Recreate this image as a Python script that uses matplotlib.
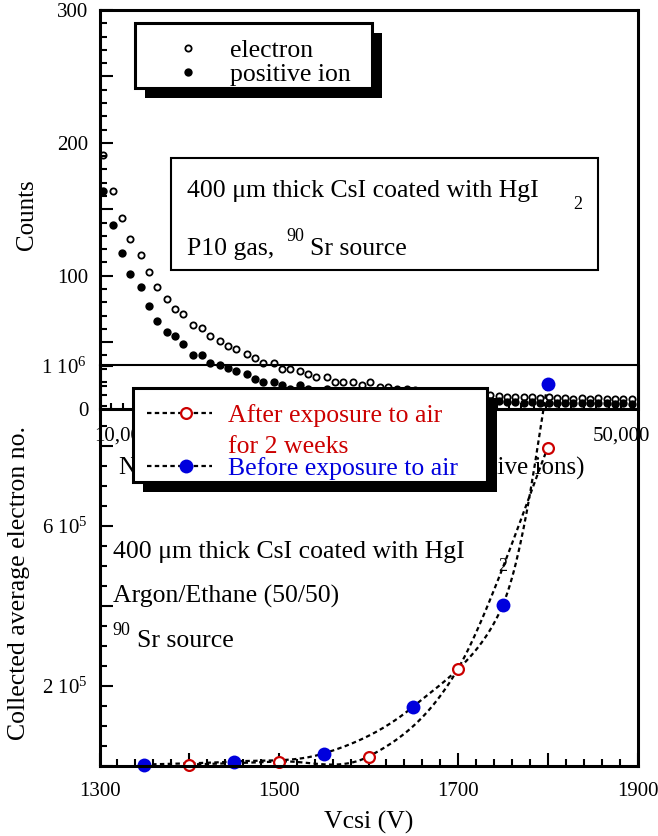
import numpy as np
import matplotlib
matplotlib.use('Agg')
import matplotlib.pyplot as plt
from matplotlib.patches import Rectangle
from matplotlib.lines import Line2D
from matplotlib.ticker import MultipleLocator, FixedLocator, FuncFormatter

plt.rcParams['font.family'] = ['Liberation Serif', 'DejaVu Serif']
plt.rcParams['mathtext.fontset'] = 'custom'
plt.rcParams['mathtext.rm'] = 'Liberation Serif'
plt.rcParams['mathtext.it'] = 'Liberation Serif:italic'

W, H = 658, 836
RED = '#cc0000'
BLUE = '#0000dd'

# upper panel: counts vs number of charges
n_charges = [8370, 9220, 9920, 10560, 11410, 12050, 12710, 13510, 14180, 14800,
             15650, 16310, 16990, 17790, 18430, 19080, 19940, 20600, 21250, 22100,
             22750, 23390, 24220, 24880, 25530, 26360, 27030, 27700, 28500, 29170,
             29840, 30640, 31310, 31980, 32790, 33450, 34140, 34820, 35460, 36150,
             36830, 37470, 38150, 38840, 39480, 40160, 40840, 41490, 42170, 42850,
             43490, 44180, 44860, 45500, 46180, 46870, 47510, 48190, 48880, 49520,
             50200, 50880]
electron = [190.6, 163.9, 143.7, 127.7, 115.2, 103.0, 91.1, 82.8, 75.0, 70.8,
            63.2, 60.7, 54.8, 50.5, 47.0, 44.5, 40.9, 38.1, 34.5, 34.5,
            29.9, 29.9, 28.2, 26.1, 23.8, 23.8, 20.0, 20.0, 20.0, 18.0,
            20.0, 16.2, 16.2, 14.7, 14.7, 13.8, 13.0, 12.5, 12.0, 11.5,
            11.0, 10.8, 10.5, 10.2, 10.0, 9.5, 9.0, 8.5, 9.0, 8.5,
            8.0, 8.5, 8.0, 8.0, 7.5, 8.0, 7.5, 8.0, 7.5, 7.5, 7.0, 7.5]
positive_ion = [163.7, 137.8, 117.0, 101.3, 91.1, 77.1, 65.5, 57.9, 54.8, 48.5,
                40.4, 40.4, 34.5, 32.5, 30.5, 28.6, 26.1, 22.1, 20.0, 20.0,
                18.0, 14.7, 18.0, 14.7, 13.5, 14.7, 13.0, 12.5, 12.5, 12.0,
                11.5, 11.0, 10.5, 10.5, 10.0, 9.5, 9.0, 8.5, 8.0, 8.0,
                7.5, 7.0, 7.0, 6.5, 6.0, 5.5, 5.0, 5.0, 4.5, 5.0,
                4.5, 4.5, 4.0, 4.5, 4.0, 4.0, 4.5, 4.0, 4.0, 3.5, 4.0, 3.5]

# lower panel: collected electrons vs Vcsi
vcsi_before = [1350, 1450, 1550, 1650, 1750, 1800]
before = [2500, 10000, 30000, 147500, 402500, 955000]
vcsi_after = [1400, 1500, 1600, 1700, 1800]
after = [2500, 10000, 22500, 242500, 795000]


def fx(px):
    return px / W


def fy(py):
    return 1 - py / H


def smooth(x, y, steps=30):
    # Catmull-Rom curve through the points, only for drawing the dashed line
    p = np.column_stack([x, y]).astype(float)
    p = np.vstack([p[0], p, p[-1]])
    t = np.linspace(0, 1, steps)[:, None]
    segs = []
    for i in range(1, len(p) - 2):
        p0, p1, p2, p3 = p[i - 1], p[i], p[i + 1], p[i + 2]
        segs.append(0.5 * (2 * p1 + (p2 - p0) * t
                           + (2 * p0 - 5 * p1 + 4 * p2 - p3) * t ** 2
                           + (3 * p1 - p0 - 3 * p2 + p3) * t ** 3))
    c = np.vstack(segs)
    return c[:, 0], c[:, 1]


def shadow_box(x0, y0, x1, y1, lw, off=10):
    w, h = (x1 - x0) / W, (y1 - y0) / H
    if off:
        fig.add_artist(Rectangle((fx(x0 + off), fy(y1 + off)), w, h, transform=fig.transFigure,
                                 facecolor='black', edgecolor='black', lw=0, zorder=4))
    fig.add_artist(Rectangle((fx(x0), fy(y1)), w, h, transform=fig.transFigure,
                             facecolor='white', edgecolor='black', lw=lw, zorder=5))


def ftext(px, py, s, size=18.5, **kw):
    fig.text(fx(px), fy(py), s, fontsize=size, va='baseline', zorder=7, **kw)


def fmarker(px, py, **kw):
    fig.add_artist(Line2D([fx(px)], [fy(py)], transform=fig.transFigure, zorder=6, **kw))


fig = plt.figure(figsize=(W / 100, H / 100), dpi=100)
ax1 = fig.add_axes([fx(99.5), fy(408.5), (637.5 - 99.5) / W, (408.5 - 10) / H])
ax2 = fig.add_axes([fx(99.5), fy(765.5), (637.5 - 99.5) / W, (765.5 - 365.5) / H])
ax2.patch.set_visible(False)

# ---- upper panel
ax1.plot(n_charges, electron, 'o', ms=4.5, mfc='none', mec='black', mew=1.3)
ax1.plot(n_charges, positive_ion, 'o', ms=6, mfc='black', mec='black', mew=0)
ax1.set_xlim(8110, 51325)
ax1.set_ylim(0, 300)
ax1.xaxis.set_major_locator(FixedLocator([10000, 50000]))
ax1.xaxis.set_major_formatter(FuncFormatter(lambda v, p: f'{v:,.0f}'))
ax1.xaxis.set_minor_locator(MultipleLocator(1000))
ax1.yaxis.set_major_locator(MultipleLocator(50))
ax1.yaxis.set_major_formatter(FuncFormatter(lambda v, p: f'{v:.0f}' if v % 100 == 0 else ''))
ax1.yaxis.set_minor_locator(MultipleLocator(10))
ax1.tick_params(which='both', direction='in', top=False, right=False, labelsize=15, width=1.5)
ax1.tick_params(axis='y', which='major', length=9.5, pad=8)
ax1.tick_params(axis='y', which='minor', length=5)
ax1.tick_params(axis='x', which='both', length=4, pad=13)
for s in ax1.spines.values():
    s.set_linewidth(2.2)
ax1.set_ylabel('Counts', fontsize=18)
ax1.yaxis.set_label_coords(-0.115, 0.486)
ax1.set_xlabel('Number of charges (electrons or positive ions)', fontsize=18)
ax1.xaxis.set_label_coords(0.4685, -0.1217)

# ---- lower panel
bx, by = smooth(vcsi_before, before)
ax2.plot(bx, by, color='black', lw=1.6, ls=(0, (2, 1.5)))
axx, ay = smooth(vcsi_after, after)
ax2.plot(axx, ay, color='black', lw=1.6, ls=(0, (2, 1.5)))
ax2.plot(vcsi_after, after, 'o', ms=7.8, mfc='white', mec=RED, mew=1.6, clip_on=False)
ax2.plot(vcsi_before, before, 'o', ms=10, mfc=BLUE, mec=BLUE, mew=0, clip_on=False)
ax2.set_xlim(1300, 1900)
ax2.set_ylim(0, 1e6)
ax2.xaxis.set_major_locator(MultipleLocator(100))
ax2.xaxis.set_major_formatter(FuncFormatter(lambda v, p: f'{v:.0f}' if round(v) % 200 == 100 else ''))
ax2.xaxis.set_minor_locator(MultipleLocator(20))
ylabels = {200000: '2 10$^5$', 600000: '6 10$^5$', 1000000: '1 10$^6$'}
ax2.yaxis.set_major_locator(MultipleLocator(2e5))
ax2.yaxis.set_major_formatter(FuncFormatter(lambda v, p: ylabels.get(int(round(v)), '')))
ax2.yaxis.set_minor_locator(MultipleLocator(5e4))
ax2.tick_params(which='both', direction='in', top=False, right=False, labelsize=15, width=1.5)
ax2.tick_params(which='major', length=9.5)
ax2.tick_params(which='minor', length=5)
ax2.tick_params(axis='x', pad=12)
ax2.tick_params(axis='y', pad=9)
for s in ax2.spines.values():
    s.set_linewidth(2.2)
ax2.spines['top'].set_linewidth(1.5)
ax2.set_xlabel('Vcsi (V)', fontsize=18.5)
ax2.xaxis.set_label_coords(0.5, -0.113)
ax2.set_ylabel('Collected average electron no.', fontsize=18.5)
ax2.yaxis.set_label_coords(-0.129, 0.456)

# ---- upper legend
shadow_box(135, 23, 372, 88, lw=2.2)
fmarker(188, 48, marker='o', ms=4.5, mfc='none', mec='black', mew=1.3)
fmarker(188, 72, marker='o', ms=6, mfc='black', mec='black', mew=0)
ftext(230, 57, 'electron')
ftext(230, 81, 'positive ion')

# ---- upper note box
shadow_box(171, 158, 598, 270, lw=1.5, off=0)
ftext(187, 197, '400 μm thick CsI coated with HgI')
ftext(578, 209, '2', size=13, ha='center')
ftext(187, 255, 'P10 gas,')
ftext(286, 241, '90', size=13)
ftext(310, 255, 'Sr source')

# ---- lower legend
shadow_box(133, 388, 487, 482, lw=2.2)
dash = dict(color='black', lw=1.6, ls=(0, (2, 1.5)))
fig.add_artist(Line2D([fx(147), fx(212)], [fy(413), fy(413)], transform=fig.transFigure, zorder=6, **dash))
fig.add_artist(Line2D([fx(147), fx(212)], [fy(466), fy(466)], transform=fig.transFigure, zorder=6, **dash))
fmarker(186, 413, marker='o', ms=7.8, mfc='white', mec=RED, mew=1.6)
fmarker(186, 466, marker='o', ms=10, mfc=BLUE, mec=BLUE, mew=0)
ftext(228, 422, 'After exposure to air', color=RED)
ftext(228, 453, 'for 2 weeks', color=RED)
ftext(228, 475, 'Before exposure to air', color=BLUE)

# ---- lower notes
ftext(113, 558, '400 μm thick CsI coated with HgI')
ftext(503, 571, '2', size=13, ha='center')
ftext(113, 603, 'Argon/Ethane (50/50)')
ftext(112, 635, '90', size=13)
ftext(137, 647, 'Sr source')

fig.savefig('out.png', dpi=100)
